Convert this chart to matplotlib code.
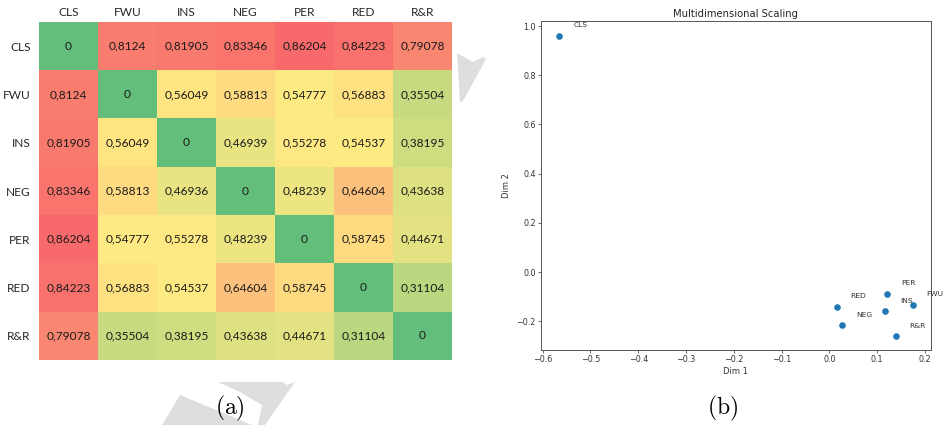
import numpy as np
import matplotlib
matplotlib.use("Agg")
import matplotlib.pyplot as plt
from matplotlib.colors import LinearSegmentedColormap, TwoSlopeNorm
from matplotlib.patches import Polygon

# ---------------- data ----------------
categories = ["CLS", "FWU", "INS", "NEG", "PER", "RED", "R&R"]
row_cls = [0, 0.8124, 0.81905, 0.83346, 0.86204, 0.84223, 0.79078]
row_fwu = [0.8124, 0, 0.56049, 0.58813, 0.54777, 0.56883, 0.35504]
row_ins = [0.81905, 0.56049, 0, 0.46939, 0.55278, 0.54537, 0.38195]
row_neg = [0.83346, 0.58813, 0.46936, 0, 0.48239, 0.64604, 0.43638]
row_per = [0.86204, 0.54777, 0.55278, 0.48239, 0, 0.58745, 0.44671]
row_red = [0.84223, 0.56883, 0.54537, 0.64604, 0.58745, 0, 0.31104]
row_rr = [0.79078, 0.35504, 0.38195, 0.43638, 0.44671, 0.31104, 0]

mds_labels = ["CLS", "FWU", "INS", "NEG", "PER", "RED", "R&R"]
dim1 = [-0.566, 0.175, 0.116, 0.027, 0.120, 0.015, 0.140]
dim2 = [0.961, -0.133, -0.158, -0.217, -0.088, -0.141, -0.260]

# ---------------- figure ----------------
W, H = 943, 425
fig = plt.figure(figsize=(W / 100, H / 100), dpi=100)

# watermark shapes (light gray)
wm_color = "#dedede"
for pts in [
    [(457, 53), (473, 62), (483, 57), (486, 59), (463, 101), (460, 102)],
    [(162, 425), (180, 395), (252, 425)],
    [(218, 382), (283, 382), (287, 385), (295, 382), (265, 425), (258, 425), (262, 405), (240, 392)],
]:
    poly = Polygon([(x / W, 1 - y / H) for x, y in pts], closed=True,
                   transform=fig.transFigure, facecolor=wm_color,
                   edgecolor="none", zorder=0)
    fig.patches.append(poly)

# ---------------- (a) heatmap ----------------
mat = np.array([row_cls, row_fwu, row_ins, row_neg, row_per, row_red, row_rr])
cmap = LinearSegmentedColormap.from_list("excel3", ["#63BE7B", "#FFEB84", "#F8696B"])
norm = TwoSlopeNorm(vmin=mat.min(), vcenter=np.median(mat), vmax=mat.max())

ax1 = fig.add_axes([39 / W, 1 - 360 / H, 413 / W, 338 / H])
ax1.imshow(mat, cmap=cmap, norm=norm, aspect="auto", interpolation="nearest")
font_cal = "Lato"
for i in range(mat.shape[0]):
    for j in range(mat.shape[1]):
        txt = f"{mat[i, j]:g}".replace(".", ",")
        ax1.text(j, i, txt, ha="center", va="center", fontsize=8.6,
                 family=font_cal, color="#1a1a1a")
ax1.set_xticks(range(len(categories)))
ax1.set_yticks(range(len(categories)))
ax1.set_xticklabels(categories, family=font_cal, fontsize=8.6, color="#262626")
ax1.set_yticklabels(categories, family=font_cal, fontsize=8.6, color="#262626")
ax1.xaxis.tick_top()
ax1.tick_params(length=0, pad=3)
ax1.tick_params(axis="y", pad=6)
for s in ax1.spines.values():
    s.set_visible(False)

# ---------------- (b) MDS scatter ----------------
ax2 = fig.add_axes([540.7 / W, 1 - 350.3 / H, 390.3 / W, 329.6 / H])
ax2.scatter(dim1, dim2, s=14, color="#1f77b4", zorder=3)
for lab, x, y in zip(mds_labels, dim1, dim2):
    ax2.annotate(lab, (x, y), xytext=(21.5, 10.4), textcoords="offset pixels",
                 ha="center", va="center", fontsize=5.4, color="#333333",
                 annotation_clip=False, clip_on=False)
ax2.set_xlim(-0.6042, 0.2126)
ax2.set_ylim(-0.318, 1.0216)
ax2.set_xticks(np.round(np.arange(-0.6, 0.21, 0.1), 1))
ax2.set_yticks(np.round(np.arange(-0.2, 1.01, 0.2), 1))
ax2.tick_params(labelsize=5.8, length=2, width=0.5, pad=1.5, colors="#333333")
ax2.set_title("Multidimensional Scaling", fontsize=7.2, pad=3, color="#262626")
ax2.set_xlabel("Dim 1", fontsize=6.0, labelpad=2, color="#333333")
ax2.set_ylabel("Dim 2", fontsize=6.0, labelpad=4, color="#333333")
for s in ax2.spines.values():
    s.set_linewidth(0.7)
    s.set_color("#555555")

# ---------------- captions ----------------
plt.rcParams["mathtext.fontset"] = "cm"
fig.text(230 / W, 1 - 408 / H, r"$\mathrm{(a)}$", ha="center", va="center", fontsize=17)
fig.text(723 / W, 1 - 408 / H, r"$\mathrm{(b)}$", ha="center", va="center", fontsize=17)

fig.savefig("out.png", dpi=100)
